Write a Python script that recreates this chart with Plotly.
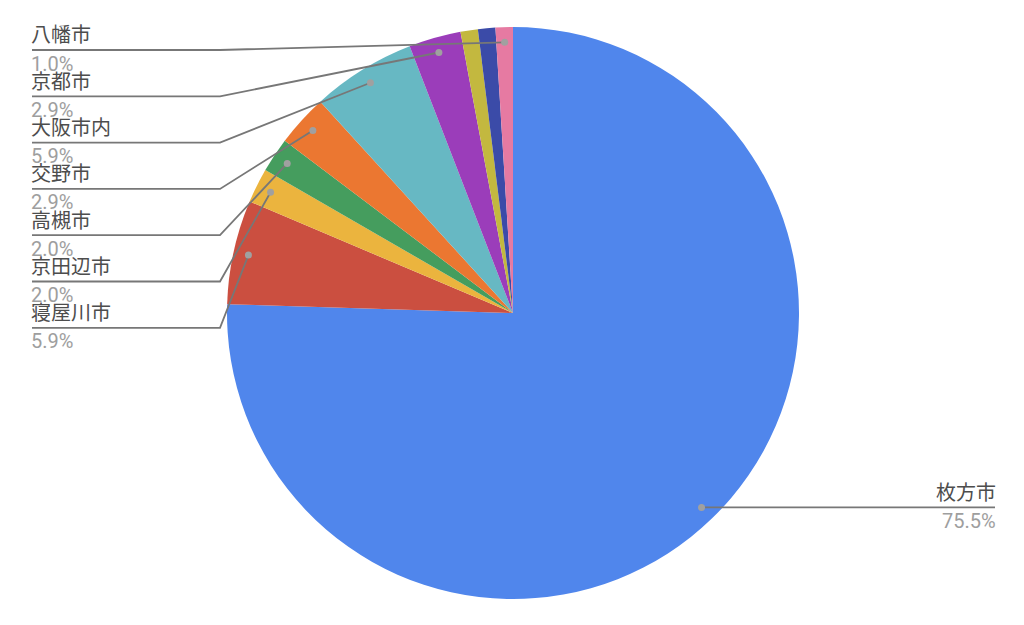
import math
import plotly.graph_objects as go

# ---- data (clockwise from 12 o'clock) ----
names = ["枚方市", "寝屋川市", "京田辺市", "高槻市", "交野市", "大阪市内", "京都市", None, None, "八幡市"]
counts = [77, 6, 2, 2, 3, 6, 3, 1, 1, 1]
colors = ["#5086EC", "#CB4F40", "#EBB43E", "#459D5E", "#EB7731",
          "#67B8C3", "#9B3DBA", "#C3B83F", "#3B4BA8", "#E67AA2"]

W, H = 1024, 625
CX, CY, R = 513, 313, 286

def px(x):
    return x / W

def py(y):
    return 1 - y / H

fig = go.Figure(go.Pie(
    values=counts,
    sort=False,
    direction="clockwise",
    rotation=0,
    marker=dict(colors=colors, line=dict(width=0)),
    textinfo="none",
    hoverinfo="percent",
    domain=dict(x=[px(CX - R), px(CX + R)], y=[py(CY + R), py(CY - R)]),
    showlegend=False,
))

total = sum(counts)
shapes = []
annotations = []
FONT = "Roboto, 'Noto Sans CJK JP', sans-serif"
font_name = dict(family=FONT, size=20, color="#4D4D4D")
font_pct = dict(family=FONT, size=20, color="#9E9E9E")
line_col = "#777777"

cum = 0
dots = {}
for i, v in enumerate(counts):
    mid = (cum + v / 2) / total
    cum += v
    ang = 2 * math.pi * mid
    dx = CX + 0.947 * R * math.sin(ang)
    dy = CY - 0.947 * R * math.cos(ang)
    dots[i] = (dx, dy)

# left column labels: ordered top to bottom (reverse slice order), skip unlabeled
left_order = [i for i in range(len(counts) - 1, 0, -1) if names[i]]
LEFT_X, ELBOW_X, TOP_Y, STEP = 32, 220, 50, 46.3
for k, i in enumerate(left_order):
    ly = TOP_Y + k * STEP
    dx, dy = dots[i]
    shapes.append(dict(type="path", xref="paper", yref="paper",
                       path=f"M {px(dx)} {py(dy)} L {px(ELBOW_X)} {py(ly)} L {px(LEFT_X)} {py(ly)}",
                       line=dict(color=line_col, width=1.8)))
    pct = f"{counts[i] / total * 100:.1f}%"
    annotations.append(dict(x=px(LEFT_X - 2), y=py(ly - 14.5), xref="paper", yref="paper",
                            text=names[i], showarrow=False, xanchor="left", yanchor="middle",
                            font=font_name, borderpad=0))
    annotations.append(dict(x=px(LEFT_X - 2), y=py(ly + 13.5), xref="paper", yref="paper",
                            text=pct, showarrow=False, xanchor="left", yanchor="middle",
                            font=font_pct, borderpad=0))

# right label for the big slice
RIGHT_X = 995
dx, dy = dots[0]
shapes.append(dict(type="path", xref="paper", yref="paper",
                   path=f"M {px(dx)} {py(dy)} L {px(RIGHT_X)} {py(dy)}",
                   line=dict(color=line_col, width=1.8)))
annotations.append(dict(x=px(RIGHT_X + 2), y=py(dy - 14.5), xref="paper", yref="paper",
                        text=names[0], showarrow=False, xanchor="right", yanchor="middle",
                        font=font_name, borderpad=0))
annotations.append(dict(x=px(RIGHT_X + 2), y=py(dy + 13.5), xref="paper", yref="paper",
                        text=f"{counts[0] / total * 100:.1f}%", showarrow=False,
                        xanchor="right", yanchor="middle", font=font_pct, borderpad=0))

# dots on slices
for i, (dx, dy) in dots.items():
    if names[i]:
        r = 3.5
        shapes.append(dict(type="circle", xref="paper", yref="paper",
                           x0=px(dx - r), x1=px(dx + r), y0=py(dy + r), y1=py(dy - r),
                           fillcolor="#A0A0A0", line=dict(width=0)))

fig.update_layout(
    width=W, height=H,
    margin=dict(l=0, r=0, t=0, b=0),
    paper_bgcolor="white",
    plot_bgcolor="white",
    shapes=shapes,
    annotations=annotations,
)

fig.write_html("out.html", config={"displayModeBar": False},
               post_script="document.body.style.margin='0';")
